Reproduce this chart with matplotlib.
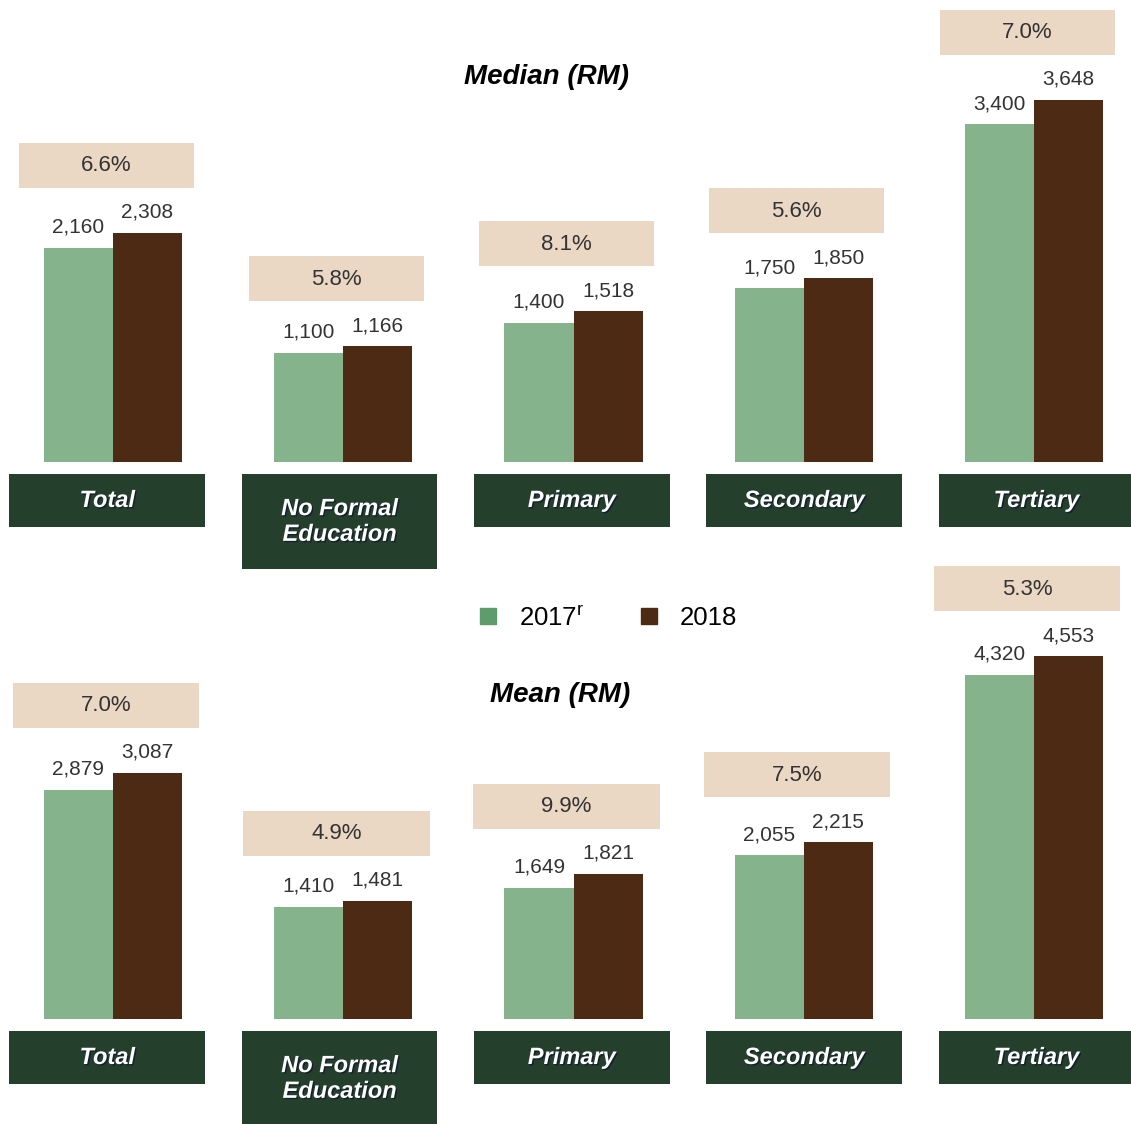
import numpy as np
import matplotlib.pyplot as plt
from matplotlib.patches import Rectangle
from matplotlib.lines import Line2D
import matplotlib.patheffects as pe

plt.rcParams['font.family'] = ['Liberation Sans', 'DejaVu Sans']

categories = ['Total', 'No Formal\nEducation', 'Primary', 'Secondary', 'Tertiary']
median_2017 = [2160, 1100, 1400, 1750, 3400]
median_2018 = [2308, 1166, 1518, 1850, 3648]
median_growth = ['6.6%', '5.8%', '8.1%', '5.6%', '7.0%']
mean_2017 = [2879, 1410, 1649, 2055, 4320]
mean_2018 = [3087, 1481, 1821, 2215, 4553]
mean_growth = ['7.0%', '4.9%', '9.9%', '7.5%', '5.3%']

GREEN = '#85b38c'
BROWN = '#4c2a14'
DARK = '#24402d'
BEIGE = '#ead7c4'

W, H = 1131, 1124
fig = plt.figure(figsize=(W / 100, H / 100), dpi=100)

x = np.arange(len(categories))
bw = 0.3
unit_px = 230.25  # pixels per category step


def panel(top_px, bottom_px, base_px, scale, v17, v18, growth, box_w, title, title_xy):
    ax = fig.add_axes([0, 1 - bottom_px / H, 1, (bottom_px - top_px) / H])
    ax.set_xlim(-113 / unit_px, 4 + 97 / unit_px)
    ax.set_ylim(-(bottom_px - base_px) / scale, (base_px - top_px) / scale)
    ax.axis('off')
    ax.patch.set_alpha(0)
    d = 1 / scale  # data units per pixel

    ax.bar(x - bw / 2, v17, bw, color=GREEN)
    ax.bar(x + bw / 2, v18, bw, color=BROWN)

    for i in range(len(categories)):
        ax.text(x[i] - bw / 2, v17[i] + 15 * d, f'{v17[i]:,}', ha='center',
                va='baseline', fontsize=15, color='#333333')
        ax.text(x[i] + bw / 2, v18[i] + 15 * d, f'{v18[i]:,}', ha='center',
                va='baseline', fontsize=15, color='#333333')

        # growth box
        top = max(v17[i], v18[i]) + 45 * d
        cx = x[i] - 0.03
        ax.add_patch(Rectangle((cx - box_w / 2, top), box_w, 45 * d,
                               color=BEIGE, lw=0, clip_on=False))
        ax.text(cx, top + 22 * d, growth[i], ha='center', va='center',
                fontsize=16, color='#333333')

        # category box
        lines = categories[i].count('\n') + 1
        h = 53 if lines == 1 else 95
        bx = x[i] - 0.025 + i * 0.009
        ax.add_patch(Rectangle((bx - 0.425, -12 * d - h * d), 0.85, h * d,
                               color=DARK, lw=0, clip_on=False))
        ax.text(bx, -12 * d - h * d / 2, categories[i], ha='center',
                va='center', fontsize=17, color='white', fontweight='bold',
                fontstyle='italic', linespacing=1.15,
                path_effects=[pe.withSimplePatchShadow(offset=(1, -1),
                                                        shadow_rgbFace='#10182a',
                                                        alpha=0.8)])

    fig.text(title_xy[0] / W, 1 - title_xy[1] / H, title, ha='center', va='center',
             fontsize=20, fontweight='bold', fontstyle='italic', color='black')
    return ax


panel(0, 580, 462, 0.0993, median_2017, median_2018, median_growth, 0.76,
      'Median (RM)', (546, 77))
panel(560, 1124, 1019, 0.0797, mean_2017, mean_2018, mean_growth, 0.81,
      'Mean (RM)', (560, 695))

handles = [Line2D([], [], marker='s', ls='', color='#5f9c6c', markersize=12),
           Line2D([], [], marker='s', ls='', color=BROWN, markersize=12)]
fig.legend(handles, ['2017$^\\mathregular{r}$', '2018'], loc='center',
           bbox_to_anchor=(606 / W, 1 - 618 / H), ncol=2, frameon=False,
           fontsize=18.5, columnspacing=2.0, handletextpad=0.7, handlelength=1.0)

fig.savefig('out.png', dpi=100)
